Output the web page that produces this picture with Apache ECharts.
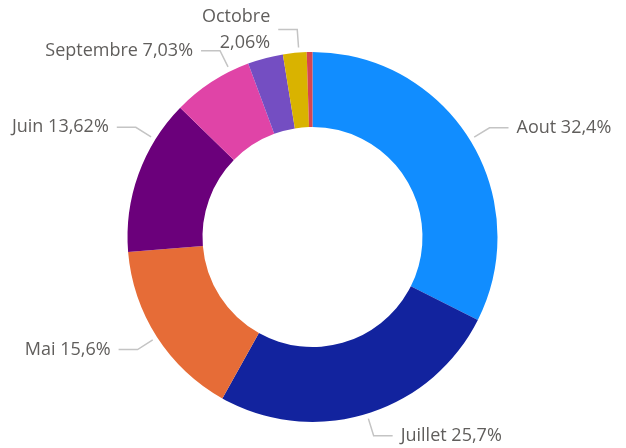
<!DOCTYPE html>
<html>
<head>
<meta charset="utf-8">
<script src="https://cdn.jsdelivr.net/npm/echarts@6/dist/echarts.min.js"></script>
<style>
  html, body { margin: 0; padding: 0; background: #fff; }
  #chart { width: 626px; height: 448px; }
</style>
</head>
<body>
<div id="chart"></div>
<script>
// mois et parts (en %)
const months = ["Aout", "Juillet", "Mai", "Juin", "Septembre", "Novembre", "Octobre", "Décembre"];
const shares = [32.4, 25.7, 15.6, 13.62, 7.03, 3.09, 2.06, 0.5];
const colors = ["#118DFF", "#12239E", "#E66C37", "#6B007B", "#E044A7", "#744EC2", "#D9B300", "#D64550"];
const labelled = [true, true, true, true, true, false, true, false];

const fmt = (v) => String(v).replace(".", ",") + "%";

// geometrie de l'anneau
const cx = 312.5, cy = 237, rOut = 185, rIn = 110;
// decalage (deg) de l'ancrage des etiquettes, comme le rendu d'origine
const labelShift = { Juin: 12, Septembre: 6.6, Octobre: 1.3 };

const total = shares.reduce((a, b) => a + b, 0);
const midAngles = [];
let acc = 0;
shares.forEach((s) => {
  midAngles.push(((acc + s / 2) / total) * 360);
  acc += s;
});

function placeLabel(params) {
  const i = params.dataIndex;
  if (!labelled[i]) return {};
  const a = (midAngles[i] + (labelShift[months[i]] || 0)) * Math.PI / 180;
  const ux = Math.sin(a), uy = -Math.cos(a);
  const side = ux >= 0 ? 1 : -1;
  const p0 = [cx + (rOut + 5) * ux, cy + (rOut + 5) * uy];
  const p1 = [cx + (rOut + 23) * ux, cy + (rOut + 23) * uy];
  const p2 = [p1[0] + side * 19, p1[1]];
  return {
    x: p2[0] + side * 8,
    y: p2[1],
    align: side > 0 ? "left" : "right",
    verticalAlign: "middle",
    labelLinePoints: [p0, p1, p2]
  };
}

const chart = echarts.init(document.getElementById("chart"));
chart.setOption({
  animation: false,
  series: [{
    type: "pie",
    center: [cx, cy],
    radius: [rIn, rOut],
    startAngle: 90,
    clockwise: true,
    avoidLabelOverlap: false,
    data: months.map((m, i) => ({
      name: m,
      value: shares[i],
      itemStyle: { color: colors[i] },
      label: { show: labelled[i] },
      labelLine: { show: labelled[i] }
    })),
    label: {
      color: "#605E5C",
      fontFamily: "Open Sans",
      fontSize: 18,
      lineHeight: 26,
      formatter: (p) => p.name === "Octobre" ? p.name + "\n" + fmt(p.value) : p.name + " " + fmt(p.value)
    },
    labelLine: {
      lineStyle: { color: "#C4C4C4", width: 1.5 }
    },
    labelLayout: placeLabel
  }]
});
</script>
</body>
</html>
